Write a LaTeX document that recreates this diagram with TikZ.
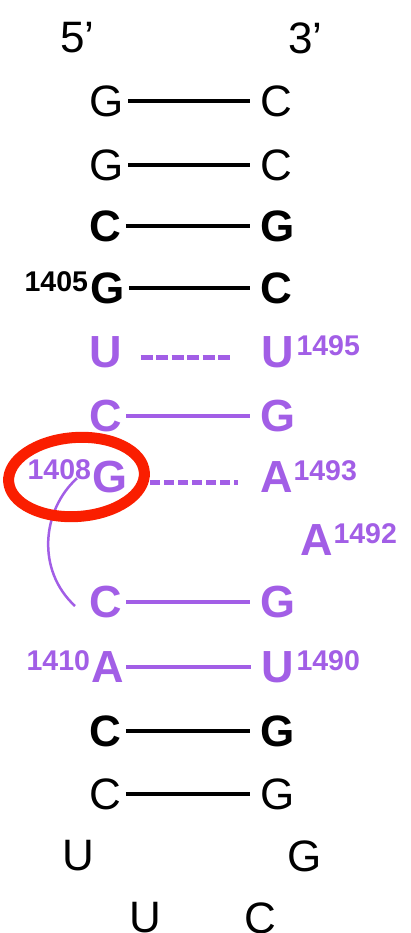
\documentclass[tikz,border=0pt]{standalone}
\usepackage{fontspec}
\setmainfont{Liberation Sans}
\usetikzlibrary{shapes.geometric}
\definecolor{rnapurple}{RGB}{162,94,230}
\definecolor{markred}{RGB}{250,30,0}
\begin{document}
\begin{tikzpicture}[x=1pt,y=-1pt,
  base/.style={inner sep=0pt,outer sep=0pt,anchor=west,font=\fontsize{44}{44}\selectfont},
  nt/.style={base},
  ntb/.style={base,font=\fontsize{44}{44}\selectfont\bfseries},
  ntp/.style={base,font=\fontsize{45}{45}\selectfont\bfseries,text=rnapurple},
  numr/.style={inner sep=0pt,outer sep=0pt,anchor=north west,font=\fontsize{28.5}{28.5}\selectfont\bfseries},
  numl/.style={inner sep=0pt,outer sep=0pt,anchor=north east,font=\fontsize{28.5}{28.5}\selectfont\bfseries},
  pairline/.style={line width=3.3pt,shorten <=5pt,shorten >=10pt},
  dashline/.style={line width=5pt,dash pattern=on 12pt off 3.5pt},
]
\useasboundingbox (0,0) rectangle (411,933);
% ends
\node[nt] (five) at (60,38) {5’};
\node[nt] (three) at (288,38) {3’};
% row 1-2
\node[nt] (l1) at (89,101) {G};
\node[nt] (r1) at (260,101) {C};
\node[nt] (l2) at (89,165) {G};
\node[nt] (r2) at (260,165) {C};
% row 3-4 bold
\node[ntb] (l3) at (89,226) {C};
\node[ntb] (r3) at (260,226) {G};
\node[ntb] (l4) at (90,288) {G};
\node[ntb] (r4) at (260,288) {C};
\node[numl] (n1405) at ([xshift=-2pt,yshift=1pt]l4.north west) {1405};
% purple region
\node[ntp] (l5) at (89,352) {U};
\node[ntp] (r5) at (261,352) {U};
\node[numr,text=rnapurple] (n1495) at ([xshift=3pt,yshift=1pt]r5.north east) {1495};
\node[ntp] (l6) at (89,416) {C};
\node[ntp] (r6) at (260,416) {G};
\node[ntp] (l7) at (92,477) {G};
\node[numl,text=rnapurple] (n1408) at ([xshift=-1pt,yshift=1pt]l7.north west) {1408};
\node[ntp] (r7) at (260,477) {A};
\node[numr,text=rnapurple] (n1493) at ([xshift=1pt,yshift=1pt]r7.north east) {1493};
\node[ntp] (r8) at (300,540) {A};
\node[numr,text=rnapurple] (n1492) at ([xshift=1pt,yshift=1pt]r8.north east) {1492};
\node[ntp] (l9) at (89,602) {C};
\node[ntp] (r9) at (260,602) {G};
\node[ntp] (l10) at (91,667) {A};
\node[numl,text=rnapurple] (n1410) at ([xshift=-1pt,yshift=1pt]l10.north west) {1410};
\node[ntp] (r10) at (261,667) {U};
\node[numr,text=rnapurple] (n1490) at ([xshift=3pt,yshift=1pt]r10.north east) {1490};
% lower black
\node[ntb] (l11) at (89,731) {C};
\node[ntb] (r11) at (260,731) {G};
\node[nt] (l12) at (89,794) {C};
\node[nt] (r12) at (260,794) {G};
\node[nt] (l13) at (62,856) {U};
\node[nt] (r13) at (287,856) {G};
\node[nt] (l14) at (129,918) {U};
\node[nt] (r14) at (244,918) {C};
% pair lines
\foreach \i in {1,2,3,4,11,12} \draw[pairline] (l\i) -- (r\i);
\foreach \i in {6,9} \draw[pairline,rnapurple] (l\i) -- (r\i);
\draw[pairline,rnapurple,shorten <=3pt] (l10) -- (r10);
\draw[dashline,rnapurple,shorten <=19pt,shorten >=29pt] ([yshift=-5pt]l5.east) -- ([yshift=-5pt]r5.west);
\draw[dashline,rnapurple,dash pattern=on 10pt off 4pt,shorten <=23pt,shorten >=22pt] ([yshift=-5pt]l7.east) -- ([yshift=-5pt]r7.west);
% curved connector
\coordinate (ks) at ([xshift=-14pt,yshift=2pt]n1408.south east);
\coordinate (ke) at ([xshift=-14pt,yshift=-4pt]l9.west);
\draw[rnapurple,line width=2.5pt] (ks) .. controls (42,510) and (36,570) .. (ke);
% red mark
\node[draw=markred,line width=11pt,ellipse,minimum width=136pt,minimum height=79pt,inner sep=0pt,rotate=4] (mark) at (76.5,477) {};
\end{tikzpicture}
\end{document}
